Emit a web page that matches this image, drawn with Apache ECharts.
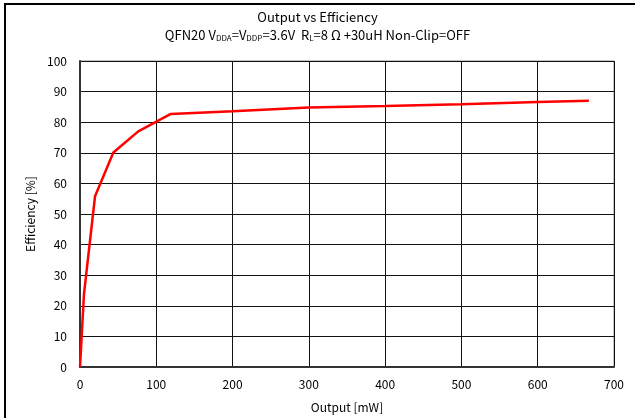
<!DOCTYPE html>
<html><head><meta charset="utf-8">
<script src="https://cdn.jsdelivr.net/npm/echarts@6/dist/echarts.min.js"></script>
<style>html,body{margin:0;padding:0;background:#fff}#c{width:635px;height:418px}</style>
</head><body><div id="c"></div>
<script>
const outputMW = [0, 5.2, 19.7, 43.7, 76.4, 119, 200, 300, 400, 500, 600, 667];
const efficiency = [0, 23.8, 55.8, 70.1, 77.0, 82.7, 83.6, 84.8, 85.3, 85.9, 86.6, 87.0];
const xTicks = [0, 100, 200, 300, 400, 500, 600, 700];
const yTicks = [0, 10, 20, 30, 40, 50, 60, 70, 80, 90, 100];

const font = 'Noto Sans CJK JP, sans-serif';
const chart = echarts.init(document.getElementById('c'));
chart.setOption({
  animation: false,
  backgroundColor: '#fff',
  title: {
    left: 'center',
    top: 6,
    text: 'Output vs Efficiency',
    textStyle: {fontSize: 13, fontWeight: 'normal', color: '#000', fontFamily: font},
    subtext: 'QFN20 V{s|DDA}=V{s|DDP}=3.6V  R{s|L}=8 Ω +30uH Non-Clip=OFF',
    subtextStyle: {
      fontSize: 13, color: '#000', fontFamily: font,
      rich: {s: {fontSize: 8, color: '#000', fontFamily: font, verticalAlign: 'bottom', padding: [6, 0, 0, 0]}}
    },
    itemGap: 4
  },
  graphic: [{
    type: 'rect', shape: {x: 5, y: 4, width: 640, height: 420},
    style: {fill: 'none', stroke: '#000', lineWidth: 2}, silent: true
  }],
  grid: {left: 80, right: 21, top: 61, bottom: 50, show: true, borderColor: '#888', borderWidth: 1},
  xAxis: {
    type: 'value', min: xTicks[0], max: xTicks[xTicks.length - 1], interval: 100,
    name: 'Output [mW]', nameLocation: 'middle', nameGap: 34,
    nameTextStyle: {fontSize: 12, color: '#000', fontFamily: font},
    axisLine: {show: true, lineStyle: {color: '#333', width: 2}},
    axisTick: {show: false},
    axisLabel: {fontSize: 12, color: '#000', fontFamily: font, margin: 11},
    splitLine: {show: true, lineStyle: {color: '#111', width: 1}}
  },
  yAxis: {
    type: 'value', min: yTicks[0], max: yTicks[yTicks.length - 1], interval: 10,
    name: 'Efficiency [%]', nameLocation: 'middle', nameGap: 43,
    nameTextStyle: {fontSize: 12, color: '#000', fontFamily: font},
    axisLine: {show: true, lineStyle: {color: '#333', width: 2}},
    axisTick: {show: false},
    axisLabel: {fontSize: 12, color: '#000', fontFamily: font, margin: 13},
    splitLine: {show: true, lineStyle: {color: '#111', width: 1}}
  },
  series: [{
    type: 'line',
    data: outputMW.map((x, i) => [x, efficiency[i]]),
    showSymbol: false,
    lineStyle: {color: '#ff0000', width: 2.5},
    z: 5
  }]
});
</script></body></html>
